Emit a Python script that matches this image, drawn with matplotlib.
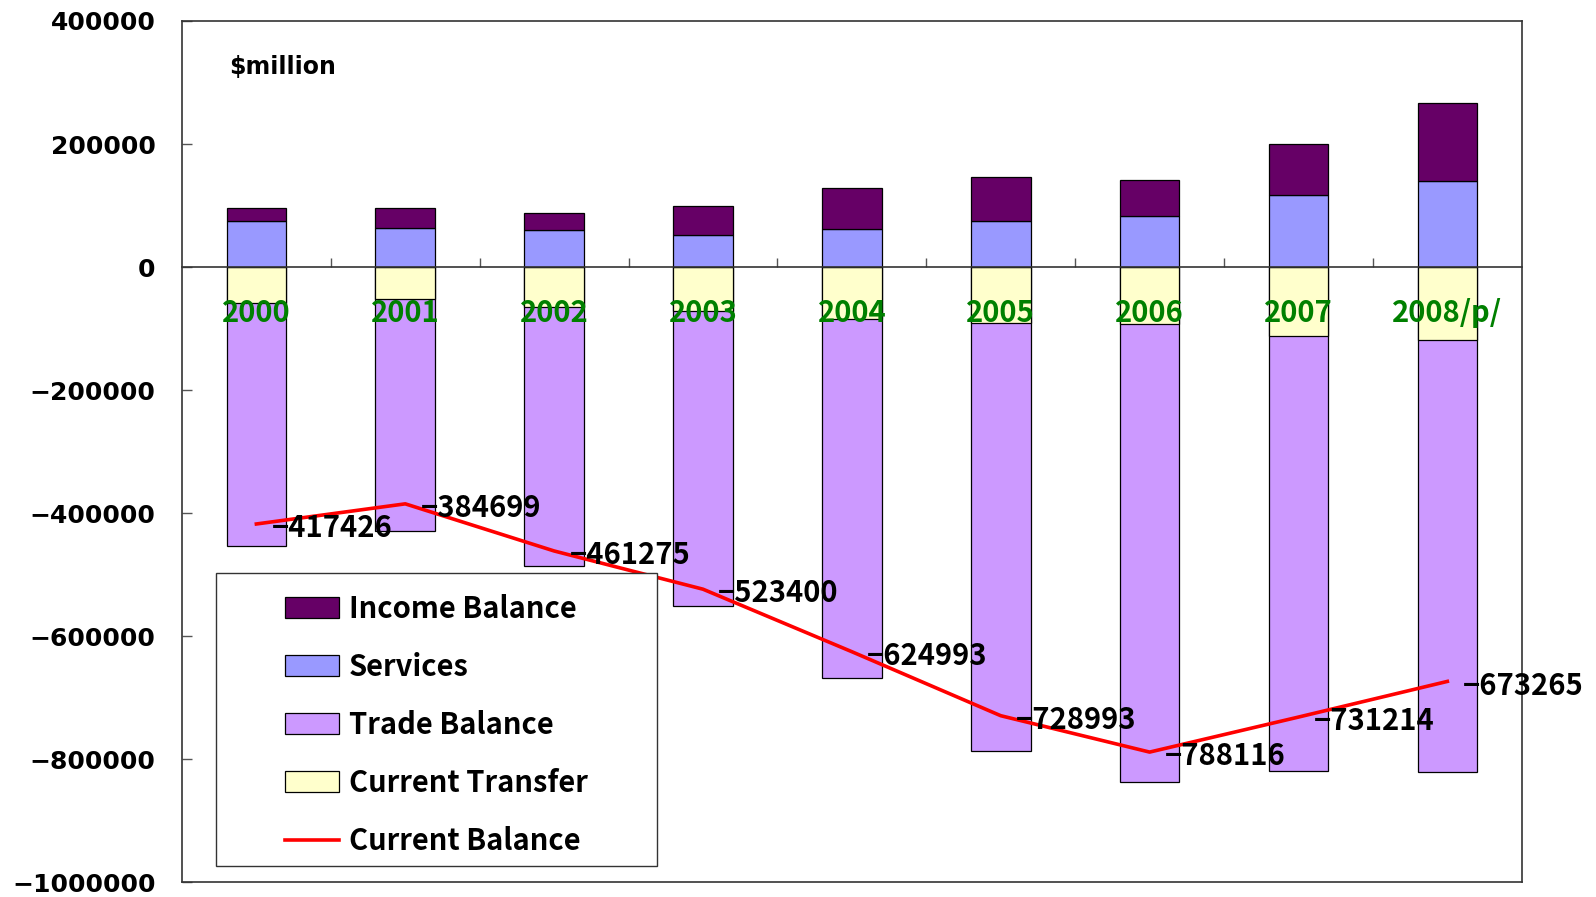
import matplotlib
matplotlib.use("Agg")
import matplotlib.pyplot as plt
import numpy as np
from matplotlib.patches import Patch, Rectangle
from matplotlib.lines import Line2D

years = ["2000", "2001", "2002", "2003", "2004", "2005", "2006", "2007", "2008/p/"]
income = [21000, 32000, 27700, 47700, 67000, 72000, 58500, 84000, 127000]
services = [74600, 63800, 61000, 52400, 61600, 74600, 83200, 116800, 139500]
trade = [-454000, -429000, -485000, -551000, -668000, -786000, -837000, -819000, -821000]
transfer = [-58000, -52000, -65000, -71000, -85000, -90000, -92000, -112000, -118000]
current = [-417426, -384699, -461275, -523400, -624993, -728993, -788116, -731214, -673265]
yticks = [400000, 200000, 0, -200000, -400000, -600000, -800000, -1000000]

CJK = ["Noto Sans CJK JP", "DejaVu Sans"]


def main():
    fig = plt.figure(figsize=(15.96, 8.97), dpi=100)
    ax = fig.add_axes([0.114, 0.0162, 0.8395, 0.9604])

    x = np.arange(len(years))
    w = 0.4
    ec = dict(edgecolor="black", linewidth=0.9)
    # trade drawn from zero, transfer drawn over it
    ax.bar(x, trade, w, color="#cc99ff", **ec)
    ax.bar(x, transfer, w, color="#ffffcc", **ec)
    ax.bar(x, services, w, color="#9999ff", **ec)
    ax.bar(x, income, w, bottom=services, color="#660066", **ec)
    ax.plot(x, current, color="red", lw=2.6, zorder=4)

    for xi, v in zip(x, current):
        ax.annotate("\u2212" + str(abs(v)), (xi, v), xytext=(11, -3),
                    textcoords="offset points", ha="left", va="center",
                    fontsize=21, fontweight="bold", family=CJK, zorder=5)

    ax.set_xlim(-0.5, len(years) - 0.5)
    ax.set_ylim(-1000000, 400000)
    ax.set_yticks(yticks)
    ax.set_yticklabels([("\u2212" if t < 0 else "") + str(abs(t)) for t in yticks],
                       fontsize=18, fontweight="bold")
    ax.tick_params(axis="y", direction="in", length=7, width=1, color="#555555", pad=19)

    # zero line as the category axis
    ax.spines["bottom"].set_position(("data", 0))
    ax.set_xticks(x[:-1] + 0.5)
    ax.set_xticklabels([])
    ax.tick_params(axis="x", which="major", direction="in", length=6.5, width=1, color="#555555")
    ax.set_xticks(x, years, minor=True)
    ax.tick_params(axis="x", which="minor", length=0, pad=22, labelcolor="#008000")
    for lab in ax.get_xticklabels(minor=True):
        lab.set_fontsize(21)
        lab.set_fontweight("bold")
        lab.set_family(CJK)
    for s in ["top", "left", "right", "bottom"]:
        ax.spines[s].set_color("#333333")
        ax.spines[s].set_linewidth(1.2)
    ax.plot([0, 1], [0, 0], transform=ax.transAxes, color="#333333", lw=1.2, clip_on=False)

    ax.text(0.035, 0.9466, "$million", transform=ax.transAxes, fontsize=17,
            fontweight="bold", ha="left", va="center")

    # legend box
    ax.add_patch(Rectangle((0.0254, 0.019), 0.329, 0.340, transform=ax.transAxes,
                           facecolor="white", edgecolor="#333333", lw=1, zorder=6))
    handles = [
        Patch(facecolor="#660066", edgecolor="black", lw=0.9),
        Patch(facecolor="#9999ff", edgecolor="black", lw=0.9),
        Patch(facecolor="#cc99ff", edgecolor="black", lw=0.9),
        Patch(facecolor="#ffffcc", edgecolor="black", lw=0.9),
        Line2D([], [], color="red", lw=2.6),
    ]
    labels = ["Income Balance", "Services", "Trade Balance", "Current Transfer", "Current Balance"]
    leg = ax.legend(handles, labels, loc="center",
                    bbox_to_anchor=(0.0254 + 0.329 / 2, 0.019 + 0.340 / 2 - 0.006),
                    frameon=False, prop={"family": CJK, "size": 21, "weight": "bold"},
                    handlelength=1.85, handletextpad=0.34, labelspacing=0.96)
    leg.set_zorder(7)

    fig.savefig("out.png", dpi=100)


if __name__ == "__main__":
    main()
